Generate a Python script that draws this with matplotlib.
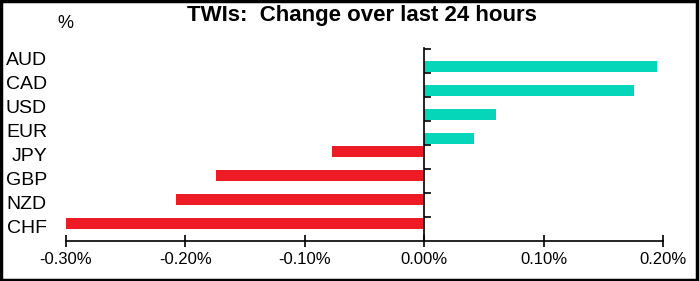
import matplotlib
matplotlib.use('Agg')
import matplotlib.pyplot as plt
from matplotlib.ticker import FuncFormatter, FixedLocator
from matplotlib.patches import Rectangle
from matplotlib.transforms import blended_transform_factory

plt.rcParams['font.family'] = ['Liberation Sans', 'DejaVu Sans']

# currencies, top to bottom
currencies = ['AUD', 'CAD', 'USD', 'EUR', 'JPY', 'GBP', 'NZD', 'CHF']
# change over last 24 hours, %
changes = [0.195, 0.176, 0.060, 0.042, -0.077, -0.174, -0.208, -0.300]

teal = '#05D5B9'
red = '#ED1C24'

fig = plt.figure(figsize=(7.0, 2.81), dpi=100)
ax = fig.add_axes([66 / 700, 40 / 281, 597 / 700, 193 / 281])

pos = list(range(len(currencies)))
# positive values sit in the lower slot, negatives in the upper slot
for i, v in zip(pos, changes):
    if v >= 0:
        ax.barh(i + 0.22, v, height=0.46, color=teal)
    else:
        ax.barh(i - 0.22, v, height=0.46, color=red)

ax.set_xlim(-0.30, 0.20)
ax.set_ylim(len(currencies) - 0.5, -0.54)

ax.spines['top'].set_visible(False)
ax.spines['right'].set_visible(False)
ax.spines['left'].set_position(('data', 0))
ax.spines['bottom'].set_linewidth(1.2)
ax.spines['left'].set_linewidth(1.2)

ax.set_xticks([-0.3, -0.2, -0.1, 0.0, 0.1, 0.2])
ax.xaxis.set_major_formatter(FuncFormatter(lambda x, p: '%.2f%%' % x))
ax.tick_params(axis='x', direction='inout', length=8, width=1.2, labelsize=12, pad=4)

ax.yaxis.set_major_locator(FixedLocator([p - 0.5 for p in pos]))
ax.yaxis.set_major_formatter(FuncFormatter(lambda y, p: ''))
ax.tick_params(axis='y', direction='in', length=5, width=1.2)

trans = blended_transform_factory(fig.transFigure, ax.transData)
for i, c in zip(pos, currencies):
    ax.text(47 / 700, i, c, transform=trans, ha='right', va='center', fontsize=14)

fig.text(362 / 700, 1 - 16 / 281, 'TWIs:  Change over last 24 hours', ha='center', va='center',
         fontsize=16, fontweight='bold')
fig.text(65 / 700, 1 - 24 / 281, '%', ha='center', va='center', fontsize=13)

fig.patches.append(Rectangle((0.002, 0.004), 0.994, 0.992, transform=fig.transFigure,
                             fill=False, edgecolor='black', linewidth=2.5))

fig.savefig('out.png', dpi=100)
